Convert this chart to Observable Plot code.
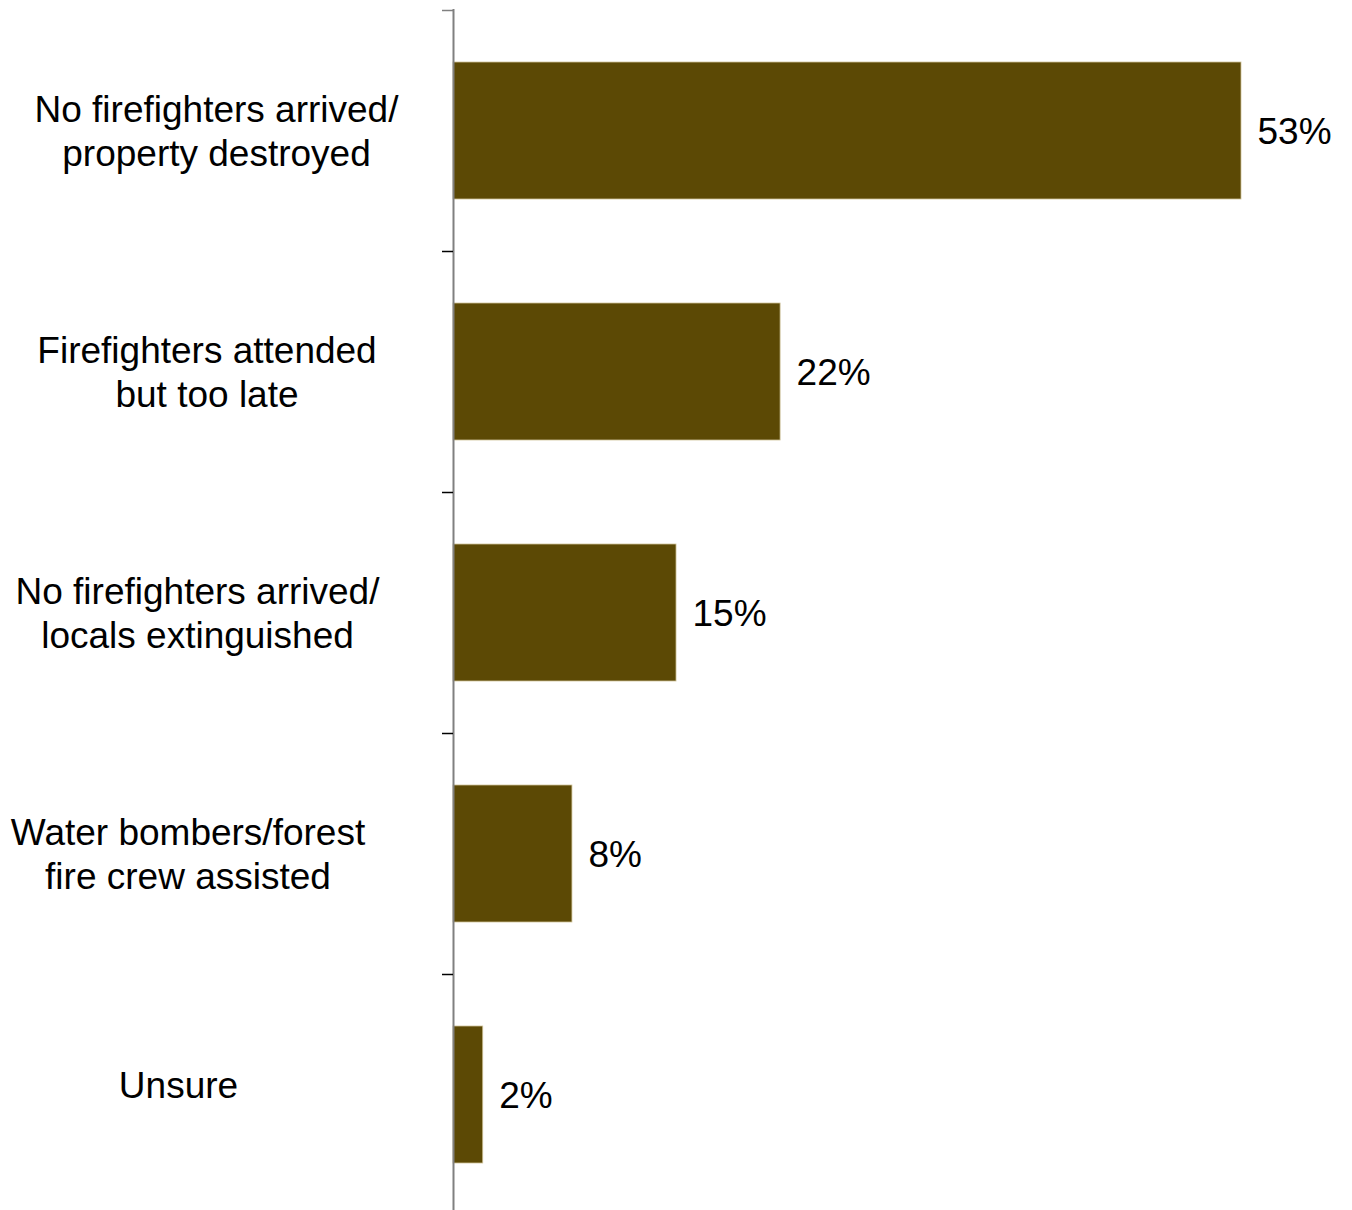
<!DOCTYPE html>
<html>
<head>
<meta charset="utf-8">
<script src="https://cdn.jsdelivr.net/npm/d3@7"></script>
<script src="https://cdn.jsdelivr.net/npm/@observablehq/plot@0.6"></script>
<style>
  html, body { margin: 0; padding: 0; background: #fff; }
  #chart svg { display: block; font-family: "Liberation Sans", Arial, sans-serif; }
</style>
</head>
<body>
<div id="chart"></div>
<script>
const categories = [
  "No firefighters arrived/\nproperty destroyed",
  "Firefighters attended\nbut too late",
  "No firefighters arrived/\nlocals extinguished",
  "Water bombers/forest\nfire crew assisted",
  "Unsure"
];
const values = [53, 22, 15, 8, 2];
const valueLabels = ["53%", "22%", "15%", "8%", "2%"];

const data = categories.map((c, i) => ({cat: c, value: values[i], label: valueLabels[i], i}));

const W = 1352, H = 1210;
const yTop = 9.5, yBottom = 1214.5;
const step = (yBottom - yTop) / categories.length;
const xMax = d3.max(values);
const xRange = [453, 1241];
const tickLen = 11 * xMax / (xRange[1] - xRange[0]);
const FS = 37;

const labelMarks = data.map((d, i) =>
  Plot.text([d], {
    y: "cat",
    frameAnchor: "left",
    text: "cat",
    dx: 216 - 9.5 * i,
    dy: i === categories.length - 1 ? -11 : -1,
    textAnchor: "middle",
    lineAnchor: "middle",
    lineHeight: 1.2,
    fontSize: FS,
    fill: "#000"
  })
);

const chart = Plot.plot({
  width: W,
  height: H,
  marginTop: 9,
  marginBottom: 0,
  marginLeft: 0,
  marginRight: 0,
  style: {background: "#fff", fontFamily: "Liberation Sans, Arial, sans-serif"},
  x: {domain: [0, xMax], range: xRange, axis: null},
  y: {domain: categories, range: [yTop, yBottom], paddingInner: 0.432, paddingOuter: 0.216, axis: null},
  marks: [
    Plot.barX(data, {
      y: "cat", x: "value",
      fill: "#5C4905",
      stroke: "#cfc39a",
      strokeWidth: 0.8
    }),
    Plot.ruleX([0], {stroke: "#808080", strokeWidth: 2}),
    Plot.ruleY(data, {
      y: "cat", x1: -tickLen, x2: 0,
      dy: -step / 2,
      stroke: d => d.i === 0 ? "#808080" : "#000",
      strokeWidth: 1.5
    }),
    Plot.text(data, {
      y: "cat", x: "value", text: "label",
      dx: 16, dy: 1, textAnchor: "start",
      fontSize: FS, fill: "#000"
    }),
    ...labelMarks
  ]
});

document.getElementById("chart").appendChild(chart);
</script>
</body>
</html>
